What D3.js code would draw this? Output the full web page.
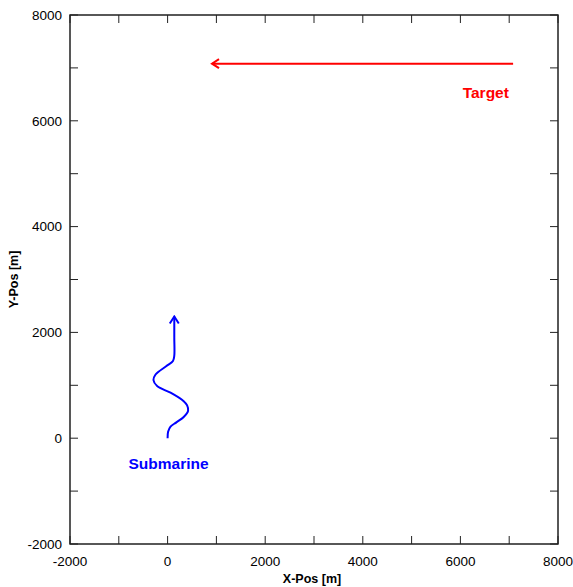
<!DOCTYPE html>
<html>
<head>
<meta charset="utf-8">
<script src="https://cdn.jsdelivr.net/npm/d3@7"></script>
<style>
  body { margin: 0; background: #fff; }
  svg { display: block; font-family: "Liberation Sans", Arial, sans-serif; }
</style>
</head>
<body>
<svg id="chart" width="573" height="587"></svg>
<script>
// axis ranges and ticks
var xDomain = [-2000, 8000];
var yDomain = [-2000, 8000];
var majorTicks = [-2000, 0, 2000, 4000, 6000, 8000];
var minorTicks = d3.range(-2000, 8001, 1000);

// submarine track (zig-zag then straight north)
var subX = [0, 10, 60, 180, 330, 420, 400, 330, 60, -210, -290, -250, -30, 110, 137, 137, 137];
var subY = [0, 120, 220, 300, 400, 520, 620, 700, 860, 980, 1100, 1200, 1360, 1460, 1560, 1900, 2300];

// target track (moving west)
var tgtX = [7080, 910];
var tgtY = [7080, 7080];

var labels = [
  { text: "Target", x: 6520, y: 6540, color: "#ff0000" },
  { text: "Submarine", x: 20, y: -480, color: "#0000ff" }
];

var svg = d3.select("#chart");
var m = { left: 70, top: 15, right: 558, bottom: 544 };

var x = d3.scaleLinear().domain(xDomain).range([m.left, m.right]);
var y = d3.scaleLinear().domain(yDomain).range([m.bottom, m.top]);

var defs = svg.append("defs");
function addMarker(id, color) {
  defs.append("marker")
    .attr("id", id)
    .attr("viewBox", "-10 -6 12 12")
    .attr("refX", 0)
    .attr("refY", 0)
    .attr("markerWidth", 12)
    .attr("markerHeight", 12)
    .attr("markerUnits", "userSpaceOnUse")
    .attr("orient", "auto")
    .append("path")
    .attr("d", "M-7,-4.5L0,0L-7,4.5")
    .attr("fill", "none")
    .attr("stroke", color)
    .attr("stroke-width", 2);
}
addMarker("arrRed", "#ff0000");
addMarker("arrBlue", "#0000ff");

// frame
svg.append("rect")
  .attr("x", m.left).attr("y", m.top)
  .attr("width", m.right - m.left).attr("height", m.bottom - m.top)
  .attr("fill", "none").attr("stroke", "#111").attr("stroke-width", 1.4);

var tl = 8;
var tickG = svg.append("g").attr("stroke", "#222").attr("stroke-width", 1);
minorTicks.forEach(function (v) {
  tickG.append("line").attr("x1", x(v)).attr("x2", x(v)).attr("y1", m.bottom).attr("y2", m.bottom - tl);
  tickG.append("line").attr("x1", x(v)).attr("x2", x(v)).attr("y1", m.top).attr("y2", m.top + tl);
  tickG.append("line").attr("y1", y(v)).attr("y2", y(v)).attr("x1", m.left).attr("x2", m.left + tl);
  tickG.append("line").attr("y1", y(v)).attr("y2", y(v)).attr("x1", m.right).attr("x2", m.right - tl);
});

svg.append("g").selectAll("text")
  .data(majorTicks).join("text")
  .attr("x", function (d) { return x(d); })
  .attr("y", m.bottom + 22)
  .attr("text-anchor", "middle")
  .attr("font-size", 13.5)
  .text(function (d) { return d; });

svg.append("g").selectAll("text")
  .data(majorTicks).join("text")
  .attr("x", m.left - 8)
  .attr("y", function (d) { return y(d); })
  .attr("dy", "0.35em")
  .attr("text-anchor", "end")
  .attr("font-size", 13.5)
  .text(function (d) { return d; });

svg.append("text")
  .attr("x", (m.left + m.right) / 2 - 2)
  .attr("y", 583)
  .attr("text-anchor", "middle")
  .attr("font-size", 12.5)
  .attr("font-weight", "bold")
  .text("X-Pos [m]");

svg.append("text")
  .attr("transform", "translate(18," + ((m.top + m.bottom) / 2) + ") rotate(-90)")
  .attr("text-anchor", "middle")
  .attr("font-size", 12.5)
  .attr("font-weight", "bold")
  .text("Y-Pos [m]");

var line = d3.line()
  .x(function (d) { return x(d[0]); })
  .y(function (d) { return y(d[1]); });

svg.append("path")
  .datum(d3.zip(subX, subY))
  .attr("d", line.curve(d3.curveCatmullRom.alpha(0.5)))
  .attr("fill", "none")
  .attr("stroke", "#0000ff")
  .attr("stroke-width", 2)
  .attr("marker-end", "url(#arrBlue)");

svg.append("path")
  .datum(d3.zip(tgtX, tgtY))
  .attr("d", line.curve(d3.curveLinear))
  .attr("fill", "none")
  .attr("stroke", "#ff0000")
  .attr("stroke-width", 2)
  .attr("marker-end", "url(#arrRed)");

svg.append("g").selectAll("text")
  .data(labels).join("text")
  .attr("x", function (d) { return x(d.x); })
  .attr("y", function (d) { return y(d.y); })
  .attr("text-anchor", "middle")
  .attr("dy", "0.35em")
  .attr("font-size", 15.5)
  .attr("font-weight", "bold")
  .attr("fill", function (d) { return d.color; })
  .text(function (d) { return d.text; });
</script>
</body>
</html>
